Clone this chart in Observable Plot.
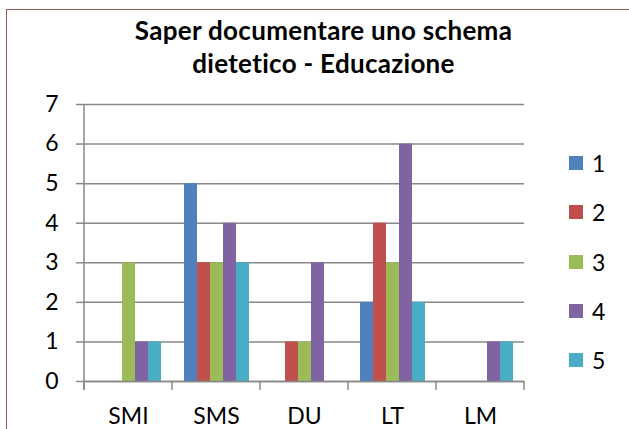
<!DOCTYPE html>
<html><head><meta charset="utf-8">
<script src="https://cdn.jsdelivr.net/npm/d3@7"></script>
<script src="https://cdn.jsdelivr.net/npm/@observablehq/plot@0.6"></script>
<style>
body{margin:0;background:#fff;}
#wrap{position:relative;width:629px;height:429px;overflow:hidden;font-family:Lato,sans-serif;color:#000;}
#border{position:absolute;left:6px;top:9px;width:800px;height:600px;border:1px solid #9b5b5b;box-sizing:border-box;}
#title{position:absolute;left:0;width:647px;top:14px;text-align:center;font-weight:bold;font-size:26px;letter-spacing:0.3px;line-height:33px;}
#chart{position:absolute;left:0;top:0;}
.leg{position:absolute;left:569px;height:20px;display:flex;align-items:center;font-size:23px;}
.leg span.sw{display:inline-block;width:14px;height:14px;margin-right:9px;}
</style></head><body>
<div id="wrap"><div id="border"></div><div id="chart"></div><div id="title"></div><div id="legend"></div></div>
<script>
const titleLines = ["Saper documentare uno schema", "dietetico - Educazione"];
const categories = ["SMI", "SMS", "DU", "LT", "LM"];
const series = ["1", "2", "3", "4", "5"];
const values1 = [0, 5, 0, 2, 0];
const values2 = [0, 3, 1, 4, 0];
const values3 = [3, 3, 1, 3, 0];
const values4 = [1, 4, 3, 6, 1];
const values5 = [1, 3, 0, 2, 1];
const colors = ["#4F81BD", "#C0504D", "#9BBB59", "#8064A2", "#4BACC6"];
const yTicks = [0, 1, 2, 3, 4, 5, 6, 7];

const allValues = [values1, values2, values3, values4, values5];
const data = [];
categories.forEach((c, i) => series.forEach((s, j) => data.push({category: c, series: s, value: allValues[j][i]})));

document.getElementById("title").innerHTML = titleLines.join("<br>");

const chart = Plot.plot({
  width: 629, height: 429,
  marginTop: 104, marginBottom: 48, marginLeft: 83, marginRight: 104,
  style: {fontFamily: "Lato, sans-serif", fontSize: "23px", color: "#000", background: "transparent"},
  fx: {domain: categories, padding: 0, label: null, tickSize: 0, tickPadding: 26},
  x: {domain: series, paddingInner: 0, paddingOuter: 0.85, axis: null},
  y: {domain: [0, 7], axis: null},
  color: {domain: series, range: colors},
  marks: [
    Plot.ruleY(yTicks, {stroke: "#888", strokeWidth: 1.5}),
    Plot.axisY(yTicks, {tickSize: 8, tickPadding: 18, stroke: "#888", strokeWidth: 1.5, fill: "#000", label: null, fontSize: 23}),
    Plot.barY(data.filter(d => d.value > 0), {fx: "category", x: "series", y: "value", fill: "series"}),
    Plot.ruleY([0], {stroke: "#888", strokeWidth: 1.5})
  ]
});

// axis line and category boundary ticks from the library's scales
const fx = chart.scale("fx");
const y = chart.scale("y");
const y0 = y.apply(0), yTop = y.apply(7);
const bounds = categories.map(c => fx.apply(c));
bounds.push(fx.apply(categories[categories.length - 1]) + fx.step);
const g = d3.select(chart).append("g").attr("stroke", "#888").attr("stroke-width", 1.5);
g.append("line").attr("x1", bounds[0]).attr("x2", bounds[0]).attr("y1", yTop).attr("y2", y0 + 9);
bounds.forEach(b => g.append("line").attr("x1", b).attr("x2", b).attr("y1", y0).attr("y2", y0 + 9));

document.getElementById("chart").appendChild(chart);

const color = chart.scale("color");
const legend = document.getElementById("legend");
color.domain.forEach((s, i) => {
  const d = document.createElement("div");
  d.className = "leg";
  d.style.top = (153 + i * 49.3) + "px";
  d.innerHTML = `<span class="sw" style="background:${color.range[i]}"></span><span>${s}</span>`;
  legend.appendChild(d);
});
</script>
</body></html>
